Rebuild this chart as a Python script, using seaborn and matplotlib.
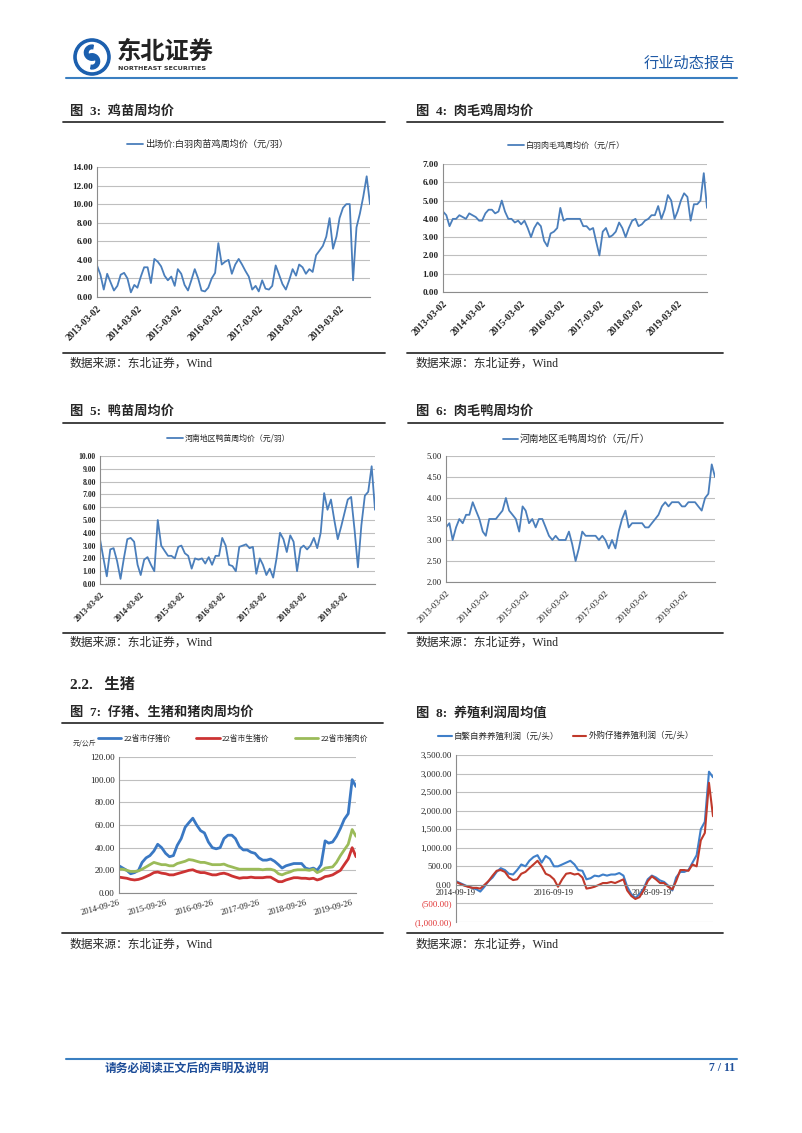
import matplotlib
matplotlib.use('Agg')
import matplotlib.pyplot as plt
import seaborn as sns
import pandas as pd
from matplotlib.lines import Line2D
from matplotlib.patches import Circle, Wedge

W, H = 802, 1133

# ---- data (monthly samples of weekly series) ----
chick_price = [3.4, 2.4, 0.8, 2.5, 1.6, 0.7, 1.2, 2.4, 2.6, 2.0, 0.5, 1.3,
               1.0, 2.2, 3.2, 3.2, 1.5, 4.1, 3.8, 3.3, 2.3, 1.8, 2.2, 1.2,
               3.0, 2.5, 1.3, 0.7, 1.8, 3.0, 2.0, 0.7, 0.6, 1.0, 2.0, 2.6,
               5.8, 3.5, 3.8, 4.0, 2.5, 3.5, 4.1, 3.5, 2.8, 2.2, 0.8, 1.2,
               0.6, 1.8, 0.9, 0.8, 1.2, 3.4, 2.4, 1.4, 0.8, 1.8, 3.0, 2.3,
               3.5, 3.2, 2.5, 3.0, 2.7, 4.5, 5.0, 5.5, 6.5, 8.5, 5.2, 6.5,
               8.5, 9.6, 10.0, 10.0, 1.8, 7.5, 9.0, 10.8, 13.0, 10.0]
broiler_price = [4.4, 4.2, 3.6, 4.0, 4.0, 4.2, 4.1, 4.0, 4.3, 4.2, 4.1, 3.9,
                 3.9, 4.3, 4.5, 4.5, 4.3, 4.4, 5.0, 4.4, 4.0, 4.0, 3.8, 3.9,
                 3.7, 3.9, 3.5, 3.0, 3.5, 3.8, 3.6, 2.8, 2.5, 3.2, 3.3, 3.5,
                 4.6, 3.9, 4.0, 4.0, 4.0, 4.0, 4.0, 3.6, 3.6, 3.4, 3.5, 2.7,
                 2.0, 3.3, 3.5, 3.0, 3.1, 3.3, 3.8, 3.5, 3.0, 3.5, 3.9, 4.0,
                 3.6, 3.7, 3.9, 4.0, 4.2, 4.2, 4.7, 4.0, 4.5, 5.3, 5.0, 4.0,
                 4.4, 5.0, 5.4, 5.2, 3.9, 4.8, 4.8, 5.0, 6.5, 4.6]
duckling_price = [3.5, 2.0, 0.6, 2.7, 2.8, 1.8, 0.4, 2.0, 3.5, 3.6, 3.3, 1.5,
                  0.7, 1.9, 2.1, 1.5, 1.0, 5.0, 3.0, 2.6, 2.2, 2.2, 2.0, 2.9,
                  3.0, 2.4, 2.2, 1.2, 2.0, 1.9, 2.0, 1.6, 2.1, 1.5, 2.2, 2.2,
                  3.6, 3.0, 1.5, 1.4, 1.0, 2.9, 3.0, 3.1, 2.8, 2.9, 0.8, 2.0,
                  1.5, 0.7, 1.2, 0.5, 2.0, 4.0, 3.5, 2.5, 3.8, 3.3, 1.0, 2.8,
                  3.0, 2.7, 3.0, 3.6, 2.8, 4.0, 7.1, 5.8, 6.6, 5.0, 3.5, 4.5,
                  5.5, 6.6, 6.8, 4.2, 1.3, 4.6, 6.9, 7.2, 9.2, 5.8]
duck_price = [3.3, 3.4, 3.0, 3.3, 3.5, 3.4, 3.6, 3.6, 3.9, 3.7, 3.5, 3.2,
              3.1, 3.5, 3.5, 3.5, 3.6, 3.7, 4.0, 3.7, 3.6, 3.5, 3.2, 3.8,
              3.7, 3.4, 3.5, 3.3, 3.5, 3.5, 3.3, 3.1, 3.0, 3.1, 3.0, 3.0,
              3.0, 3.2, 2.9, 2.5, 2.8, 3.2, 3.1, 3.1, 3.1, 3.1, 3.0, 3.1,
              3.0, 2.8, 3.0, 2.8, 3.2, 3.5, 3.7, 3.3, 3.4, 3.4, 3.4, 3.4,
              3.3, 3.3, 3.4, 3.5, 3.6, 3.8, 3.9, 3.8, 3.9, 3.9, 3.9, 3.8,
              3.8, 3.9, 3.9, 3.9, 3.8, 3.7, 4.0, 4.1, 4.8, 4.5]
piglet_price = [24, 22, 20, 17, 18, 20, 27, 31, 33, 37, 43, 40,
                35, 32, 33, 42, 48, 58, 62, 66, 60, 55, 53, 45,
                40, 39, 40, 48, 51, 51, 48, 41, 38, 38, 36, 35,
                31, 29, 29, 30, 28, 25, 22, 24, 25, 26, 26, 26,
                22, 21, 22, 20, 25, 46, 44, 45, 50, 57, 65, 70,
                100, 94]
hog_price = [14, 13.5, 13, 12, 11.5, 12, 13, 14.5, 16, 18, 18.5, 17.5,
             17, 16, 16, 17, 18, 19, 20, 20.5, 19, 18, 18, 17,
             16, 16, 17, 17.5, 16.5, 15, 14, 13, 13.5, 13.5, 14, 13.5,
             13.5, 13.5, 14, 14, 12, 10, 10, 11.5, 12.5, 13.5, 13.5, 13,
             13, 12.5, 13, 11.5, 12.5, 14.5, 15, 16, 18, 20, 25, 30,
             40, 32]
pork_price = [21, 21, 20, 19, 19, 19.5, 21, 23, 25, 27, 26, 25,
              25, 24, 24, 26, 27, 28, 29.5, 29, 28, 27, 27, 26,
              25, 25, 25, 25.5, 24, 23, 22, 21, 21, 21, 21, 21,
              21, 20.5, 21, 21, 20, 17, 16, 17.5, 18.5, 20, 20.5, 20.5,
              20.5, 20, 21, 18, 19.5, 22, 22.5, 23, 27, 33, 38, 43,
              56, 50]
profit_self = [100, 50, 0, -50, -80, -120, -180, -50, 100, 200, 350, 450,
               400, 300, 280, 400, 550, 500, 650, 750, 800, 600, 780, 700,
               500, 500, 550, 600, 650, 550, 400, 380, 150, 180, 250, 230,
               280, 250, 280, 280, 320, 250, -50, -250, -350, -250, -100, 150,
               250, 200, 120, 80, -20, -150, 200, 350, 350, 400, 600, 800,
               1500, 1700, 3050, 2900]
profit_buy = [80, 30, -20, -50, -80, -80, -100, 0, 100, 250, 380, 400,
              350, 200, 130, 150, 300, 350, 450, 550, 650, 500, 300, 250,
              150, -50, 150, 300, 320, 280, 300, 200, -100, -80, -50, 0,
              50, 50, 80, 50, 100, 150, -150, -300, -380, -330, -150, 100,
              230, 150, 50, 50, -50, -120, 100, 400, 400, 380, 550, 500,
              1200, 1400, 2750, 1850]

poultry_years = ['2013-03-02', '2014-03-02', '2015-03-02', '2016-03-02',
                 '2017-03-02', '2018-03-02', '2019-03-02']
pig_years = ['2014-09-26', '2015-09-26', '2016-09-26', '2017-09-26',
             '2018-09-26', '2019-09-26']
profit_years = ['2014-09-19', '2016-09-19', '2018-09-19']

sns.set_theme(style='white')
plt.rcParams['font.family'] = ['Noto Sans CJK SC', 'DejaVu Sans']
plt.rcParams['axes.unicode_minus'] = False

fig = plt.figure(figsize=(W / 100, H / 100), dpi=100)

BLUE = '#4a7ebb'
GRID = '#bfbfbf'
SPINE = '#8c8c8c'
SERIF = ['Liberation Serif', 'DejaVu Serif']
MIXED = ['Liberation Serif', 'Noto Sans CJK SC']


def box(l, t, r, b):
    return fig.add_axes([l / W, 1 - b / H, (r - l) / W, (b - t) / H])


def ftext(x, y, s, **kw):
    fig.text(x / W, 1 - y / H, s, **kw)


def hline(x0, x1, y, color='#333333', lw=1.3):
    fig.add_artist(Line2D([x0 / W, x1 / W], [1 - y / H, 1 - y / H], color=color, lw=lw))


def title(x, y, s):
    ftext(x, y, s, fontsize=9.5, fontweight='bold', va='center', family=MIXED)


def source(x, y):
    ftext(x, y, '数据来源：东北证券，Wind', fontsize=8.5, va='center', family=MIXED)


def monthly(start, vals):
    dates = pd.date_range(start, periods=len(vals), freq=pd.DateOffset(months=1))
    return pd.DataFrame({'date': dates, 'value': vals})


def legend_at(ax, x, y, size, hl, ncol=1, colsp=2.0):
    ax.legend(loc='center left', bbox_to_anchor=(x / W, 1 - y / H),
              bbox_transform=fig.transFigure, frameon=False, fontsize=size,
              handlelength=hl, handletextpad=0.25, borderpad=0, borderaxespad=0,
              ncol=ncol, columnspacing=colsp)


def base_style(ax, yticks, ylabels, size, weight):
    for s in ['top', 'right']:
        ax.spines[s].set_visible(False)
    for s in ['left', 'bottom']:
        ax.spines[s].set_color(SPINE)
        ax.spines[s].set_linewidth(0.8)
    ax.set_yticks(yticks)
    ax.set_yticklabels(ylabels, fontfamily=SERIF, fontsize=size, fontweight=weight, color='#222222')
    ax.set_ylim(yticks[0], yticks[-1])
    ax.yaxis.grid(True, color=GRID, lw=0.8)
    ax.set_axisbelow(True)
    ax.tick_params(axis='y', length=0, pad=3)
    ax.set_xlabel('')
    ax.set_ylabel('')


def poultry_chart(rect, vals, label, yticks, ysize, weight, legend_xy, lsize, hl):
    ax = box(*rect)
    df = monthly('2013-03-02', vals)
    sns.lineplot(data=df, x='date', y='value', ax=ax, color=BLUE, lw=1.3, label=label)
    base_style(ax, yticks, [f'{v:.2f}' for v in yticks], ysize, weight)
    ax.set_xlim(df['date'].iloc[0], df['date'].iloc[-1])
    ticks = pd.to_datetime(poultry_years)
    ax.set_xticks(ticks)
    ax.set_xticklabels(poultry_years, rotation=45, ha='right', rotation_mode='anchor',
                       fontfamily=SERIF, fontsize=ysize + 0.3, fontweight=weight, color='#222222')
    ax.tick_params(axis='x', length=3, color=SPINE, pad=2)
    legend_at(ax, legend_xy[0], legend_xy[1], lsize, hl)
    return ax


# ---------------- header ----------------
logo = box(72, 38, 112, 76)
logo.set_xlim(-1.05, 1.05)
logo.set_ylim(-1.05, 1.05)
logo.set_aspect('equal')
logo.axis('off')
logo.add_patch(Circle((0, 0), 1.0, color='#1b5fae'))
logo.add_patch(Circle((0, 0), 0.8, color='white'))
logo.add_patch(Wedge((0, 0.24), 0.42, 80, 320, width=0.2, color='#1b5fae'))
logo.add_patch(Wedge((0, -0.24), 0.42, 260, 140, width=0.2, color='#1b5fae'))
ftext(117, 52, '东北证券', fontsize=17.5, fontweight='bold', color='#222222', va='center')
ftext(118, 69, 'NORTHEAST SECURITIES', fontsize=4.6, fontweight='bold', color='#333333',
      va='center', family=['DejaVu Sans'])
ftext(735, 63, '行业动态报告', fontsize=11, color='#1f5aa6', ha='right', va='center')
hline(66, 737, 78, color='#3a7fc1', lw=1.5)

# ---------------- figure 3 / 4 ----------------
title(70, 112, '图  3:  鸡苗周均价')
hline(63, 385, 122)
poultry_chart((97, 167, 370, 297), chick_price, '出场价:白羽肉苗鸡周均价（元/羽）',
              list(range(0, 15, 2)), 6.6, 'bold', (127, 144), 6.6, 1.7)
hline(63, 385, 353)
source(70, 364)

title(416, 112, '图  4:  肉毛鸡周均价')
hline(407, 723, 122)
poultry_chart((443, 164, 707, 292), broiler_price, '白羽肉毛鸡周均价（元/斤）',
              list(range(0, 8)), 6.6, 'bold', (508, 145), 5.8, 2.0)
hline(407, 723, 353)
source(416, 364)

# ---------------- figure 5 / 6 ----------------
title(70, 412, '图  5:  鸭苗周均价')
hline(63, 385, 423)
poultry_chart((100, 456, 375, 584), duckling_price, '河南地区鸭苗周均价（元/羽）',
              list(range(0, 11)), 5.6, 'bold', (167, 438), 5.7, 2.0)
hline(63, 385, 633)
source(70, 643)

title(416, 412, '图  6:  肉毛鸭周均价')
hline(408, 723, 423)
poultry_chart((446, 456, 715, 582), duck_price, '河南地区毛鸭周均价（元/斤）',
              [2.0, 2.5, 3.0, 3.5, 4.0, 4.5, 5.0], 6.2, 'normal', (503, 439), 7.0, 1.5)
hline(408, 723, 633)
source(416, 643)

# ---------------- section 2.2 ----------------
ftext(70, 685, '2.2.   生猪', fontsize=11, fontweight='bold', va='center', family=MIXED)

# ---------------- figure 7 ----------------
title(70, 713, '图  7:  仔猪、生猪和猪肉周均价')
hline(62, 383, 723)
ax7 = box(119, 757, 356, 893)
pig_df = pd.DataFrame({
    'date': pd.date_range('2014-09-26', periods=len(piglet_price), freq=pd.DateOffset(months=1)),
    '22省市仔猪价': piglet_price,
    '22省市生猪价': hog_price,
    '22省市猪肉价': pork_price,
})
pig_long = pig_df.melt(id_vars='date', var_name='series', value_name='price')
sns.lineplot(data=pig_long, x='date', y='price', hue='series', ax=ax7, lw=2.0,
             palette=['#3a78c3', '#cc3333', '#9bbb59'])
yt7 = list(range(0, 121, 20))
base_style(ax7, yt7, [f'{v:.2f}' for v in yt7], 6.5, 'normal')
ax7.set_xlim(pig_df['date'].iloc[0], pig_df['date'].iloc[-1])
ax7.set_xticks(pd.to_datetime(pig_years))
ax7.set_xticklabels(pig_years, rotation=15, ha='right', rotation_mode='anchor',
                    fontfamily=SERIF, fontsize=6.2, color='#222222')
ax7.tick_params(axis='x', length=0, pad=4)
legend_at(ax7, 98, 739, 5.6, 3.0, ncol=3, colsp=3.3)
ftext(73, 744, '元/公斤', fontsize=5, va='center', color='#333333')
hline(62, 383, 933)
source(70, 945)

# ---------------- figure 8 ----------------
title(416, 713, '图  8:  养殖利润周均值')
ax8 = box(456, 755, 713, 922)
prof_df = pd.DataFrame({
    'date': pd.date_range('2014-09-19', periods=len(profit_self), freq=pd.DateOffset(months=1)),
    '自繁自养养殖利润（元/头）': profit_self,
    '外购仔猪养殖利润（元/头）': profit_buy,
})
prof_long = prof_df.melt(id_vars='date', var_name='series', value_name='profit')
sns.lineplot(data=prof_long, x='date', y='profit', hue='series', ax=ax8, lw=1.5,
             palette=['#3f7fc9', '#c0392b'])
yt8 = list(range(-1000, 3501, 500))
lab8 = [f'{v:,.2f}' if v >= 0 else f'({-v:,.2f})' for v in yt8]
base_style(ax8, yt8, lab8, 6.3, 'normal')
for t, v in zip(ax8.get_yticklabels(), yt8):
    if v < 0:
        t.set_color('#e03030')
ax8.spines['bottom'].set_position(('data', 0))
ax8.set_xlim(prof_df['date'].iloc[0], prof_df['date'].iloc[-1])
ax8.set_xticks(pd.to_datetime(profit_years))
ax8.set_xticklabels(profit_years, fontfamily=SERIF, fontsize=6.2, color='#222222')
ax8.tick_params(axis='x', length=0, pad=3)
legend_at(ax8, 438, 736, 6.1, 1.6, ncol=2, colsp=1.6)
hline(407, 723, 933)
source(416, 945)

# ---------------- footer ----------------
hline(66, 737, 1059, color='#3a7fc1', lw=1.5)
ftext(105, 1068, '请务必阅读正文后的声明及说明', fontsize=8.5, fontweight='bold',
      color='#1f4e99', va='center')
ftext(735, 1068, '7 / 11', fontsize=8.5, fontweight='bold', color='#1f4e99',
      ha='right', va='center', family=SERIF)

fig.savefig('out.png', dpi=100)
